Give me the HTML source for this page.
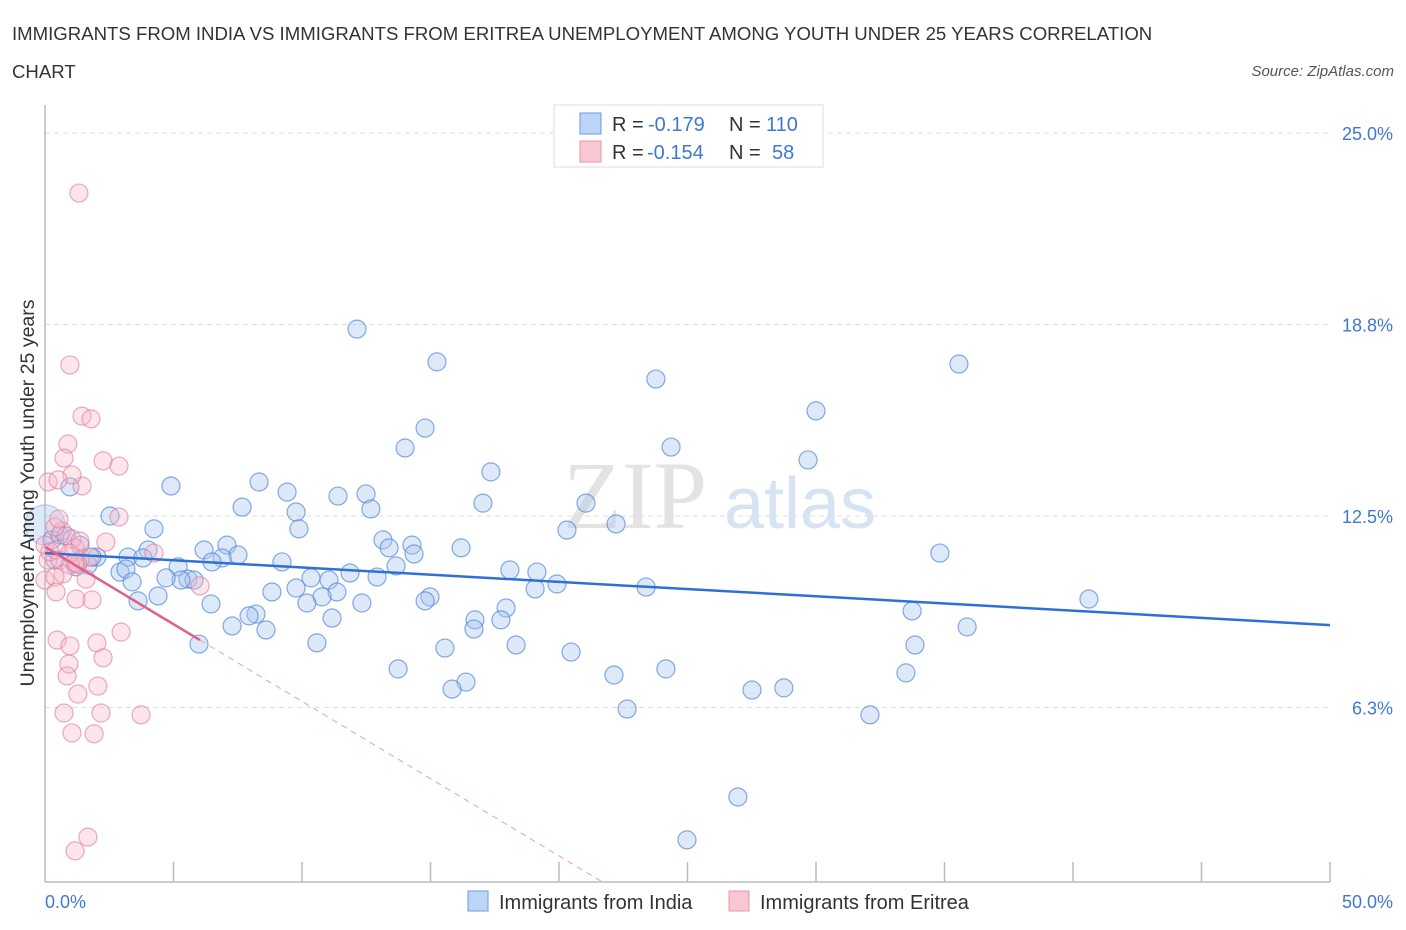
<!DOCTYPE html>
<html><head><meta charset="utf-8"><style>
body{margin:0;background:#fff;font-family:"Liberation Sans",sans-serif}
svg{display:block}
</style></head><body>
<svg id="chart" width="1406" height="930" xmlns="http://www.w3.org/2000/svg">
<text x="12" y="40" font-size="18.6" fill="#333">IMMIGRANTS FROM INDIA VS IMMIGRANTS FROM ERITREA UNEMPLOYMENT AMONG YOUTH UNDER 25 YEARS CORRELATION</text>
<text x="12" y="78" font-size="18.6" fill="#333">CHART</text>
<text x="1394" y="76" font-size="15" fill="#555" font-style="italic" text-anchor="end">Source: ZipAtlas.com</text>
<g>
<text x="635" y="528" font-size="96" fill="#e3e3e3" font-family="Liberation Serif,serif" text-anchor="middle">ZIP</text>
<text x="800" y="528" font-size="72" fill="#d5e3f3" text-anchor="middle">atlas</text>
</g>
<g id="grid"></g>
<g id="axes"></g>
<g id="pts"></g>
<g id="lines"></g>
<text transform="translate(34,493) rotate(-90)" font-size="19.5" fill="#333" text-anchor="middle">Unemployment Among Youth under 25 years</text>
<g>
<rect x="554" y="105" width="269" height="62" fill="#fff" stroke="#ddd"/>
<rect x="580" y="113" width="21" height="21" fill="#bcd4f6" stroke="#6a9be0"/>
<rect x="580" y="141" width="21" height="21" fill="#f9c6d4" stroke="#e996ae"/>
<text x="612" y="131" font-size="20" fill="#333">R =</text>
<text x="648" y="131" font-size="20" fill="#3f78d0">-0.179</text>
<text x="729" y="131" font-size="20" fill="#333">N =</text>
<text x="766" y="131" font-size="20" fill="#3f78d0">110</text>
<text x="612" y="159" font-size="20" fill="#333">R =</text>
<text x="647" y="159" font-size="20" fill="#3f78d0">-0.154</text>
<text x="729" y="159" font-size="20" fill="#333">N =</text>
<text x="772" y="159" font-size="20" fill="#3f78d0">58</text>
</g>
<g>
<rect x="468" y="891" width="20" height="20" fill="#bcd4f6" stroke="#6a9be0"/>
<text x="499" y="909" font-size="20" fill="#333">Immigrants from India</text>
<rect x="729" y="891" width="20" height="20" fill="#f9c6d4" stroke="#e996ae"/>
<text x="760" y="909" font-size="20" fill="#333">Immigrants from Eritrea</text>
</g>
</svg>
<script>
const indiaX=[12.14,15.25,23.77,35.56,30.0,14.79,14.01,24.36,29.69,17.35,4.90,0.97,8.33,9.42,11.40,12.49,17.04,21.05,7.67,9.77,12.68,2.53,22.22,20.31,4.24,9.88,13.15,14.28,13.39,16.19,14.36,34.82,4.01,6.19,7.08,7.51,2.02,3.23,6.89,6.50,9.22,1.67,3.81,1.21,2.92,3.15,5.18,13.66,18.09,19.14,11.87,10.35,11.05,5.56,5.80,5.29,4.71,12.92,3.39,19.92,19.07,23.39,9.77,11.36,8.83,4.40,10.78,40.62,14.98,3.62,14.79,10.19,12.33,6.46,17.94,33.74,8.21,7.94,16.73,11.17,17.74,7.28,8.60,16.69,35.88,10.58,18.33,15.56,33.85,5.99,20.47,13.74,24.16,22.14,33.50,16.38,15.84,27.51,28.75,22.65,32.10,26.96,24.98,0.27,0.58,0.82,1.36,1.83,0.39];
const indiaY=[18.60,17.53,16.97,17.46,15.93,15.37,14.72,14.75,14.33,13.94,13.48,13.45,13.61,13.28,13.15,13.22,12.92,12.92,12.79,12.63,12.73,12.50,12.24,12.04,12.08,12.08,11.72,11.55,11.46,11.46,11.26,11.29,11.39,11.39,11.55,11.23,11.16,11.16,11.13,11.00,11.00,10.90,11.13,10.84,10.67,10.77,10.84,10.87,10.74,10.67,10.64,10.48,10.41,10.44,10.41,10.41,10.48,10.51,10.35,10.28,10.12,10.18,10.15,10.02,10.02,9.89,9.86,9.79,9.86,9.73,9.73,9.66,9.66,9.63,9.50,9.40,9.30,9.24,9.11,9.17,9.11,8.91,8.78,8.81,8.88,8.36,8.29,8.19,8.29,8.32,8.06,7.51,7.51,7.31,7.38,7.08,6.85,6.82,6.89,6.20,6.01,3.33,1.93,11.72,11.88,11.85,11.55,11.16,11.06];
const eritreaX=[1.32,0.97,1.44,1.79,0.89,0.74,0.12,1.44,2.88,0.66,0.39,1.05,0.12,0.0,0.19,0.43,0.58,1.17,1.36,0.97,0.70,2.37,4.24,1.75,1.28,0.97,2.26,2.88,1.05,0.51,0.0,0.39,1.17,1.60,0.43,1.21,1.83,2.96,0.47,2.02,0.97,2.26,0.93,0.86,2.06,1.28,0.74,2.18,3.74,1.05,1.91,1.67,1.17,0.54,6.03,1.36];
const eritreaY=[23.04,17.43,15.76,15.67,14.85,14.39,13.61,13.48,12.47,12.01,12.14,11.75,11.06,11.55,11.33,11.39,11.06,11.46,11.06,10.90,10.61,11.65,11.29,11.16,10.93,11.29,14.30,14.13,13.84,13.68,10.41,10.51,10.97,10.44,10.02,9.79,9.76,8.71,8.45,8.36,8.26,7.87,7.67,7.28,6.95,6.69,6.07,6.07,6.01,5.42,5.39,2.02,1.57,12.40,10.22,11.68];
const yTicks=[25.0,18.8,12.5,6.3];
const yTickVals=[25,18.75,12.5,6.25];
const indiaTrend=[11.29,8.94];
const eritreaTrend=[11.49,8.45,6.03,21.8];

const X=v=>45+v*25.7, Y=v=>899-v*30.64;
const NS='http://www.w3.org/2000/svg';
function mk(tag,attrs,parent){const e=document.createElementNS(NS,tag);for(const k in attrs)e.setAttribute(k,attrs[k]);parent.appendChild(e);return e;}
const grid=document.getElementById('grid'),axes=document.getElementById('axes'),pts=document.getElementById('pts'),lines=document.getElementById('lines');
yTickVals.forEach((v,i)=>{
 const l=mk('line',{x1:45,x2:1330,y1:Y(v),y2:Y(v),stroke:'#ddd','stroke-dasharray':'5,4'},grid);
 
 
 const t=mk('text',{x:1393,y:Y(v)+7,'font-size':18,fill:'#3f78d0','text-anchor':'end'},grid);
 t.textContent=yTicks[i].toFixed(1)+'%';
 
 
});
const ya=mk('line',{x1:45,x2:45,y1:105,y2:882,stroke:'#bbb','stroke-width':1.5},axes);


const xa=mk('line',{x1:45,x2:1330,y1:882,y2:882,stroke:'#bbb','stroke-width':1.5},axes);


for(let v=5;v<=50;v+=5){
 const t=mk('line',{x1:X(v),x2:X(v),y1:862,y2:882,stroke:'#bbb','stroke-width':1.5},axes);
 
 
}
const x0=mk('text',{x:45,y:908,'font-size':18,fill:'#3f78d0'},axes);x0.textContent='0.0%';


const x1=mk('text',{x:1393,y:908,'font-size':18,fill:'#3f78d0','text-anchor':'end'},axes);x1.textContent='50.0%';


const big=mk('circle',{cx:X(0),cy:Y(12.21),r:20,fill:'rgba(170,198,240,0.4)',stroke:'rgba(90,140,215,0.45)'},pts);


indiaX.forEach((x,i)=>{
 const c=mk('circle',{cx:X(x),cy:Y(indiaY[i]),r:9,fill:'rgba(170,198,240,0.4)',stroke:'rgba(80,135,215,0.7)','stroke-width':1.2},pts);
 
 
});
eritreaX.forEach((x,i)=>{
 const c=mk('circle',{cx:X(x),cy:Y(eritreaY[i]),r:9,fill:'rgba(246,182,200,0.35)',stroke:'rgba(228,125,155,0.65)','stroke-width':1.2},pts);
 
 
});
const bl=mk('line',{x1:X(0),y1:Y(indiaTrend[0]),x2:X(50),y2:Y(indiaTrend[1]),stroke:'#2f6fd6','stroke-width':2.5},lines);


const slope=(eritreaTrend[0]-eritreaTrend[1])/eritreaTrend[2];
const pl=mk('line',{x1:X(0),y1:Y(eritreaTrend[0]),x2:X(eritreaTrend[2]),y2:Y(eritreaTrend[1]),stroke:'#e0608a','stroke-width':2.5},lines);


const pd=mk('line',{x1:X(eritreaTrend[2]),y1:Y(eritreaTrend[1]),x2:X(eritreaTrend[3]),y2:Y(eritreaTrend[0]-slope*eritreaTrend[3]),stroke:'#eaa0b8','stroke-width':1,'stroke-dasharray':'6,5'},lines);


</script>
</body></html>
